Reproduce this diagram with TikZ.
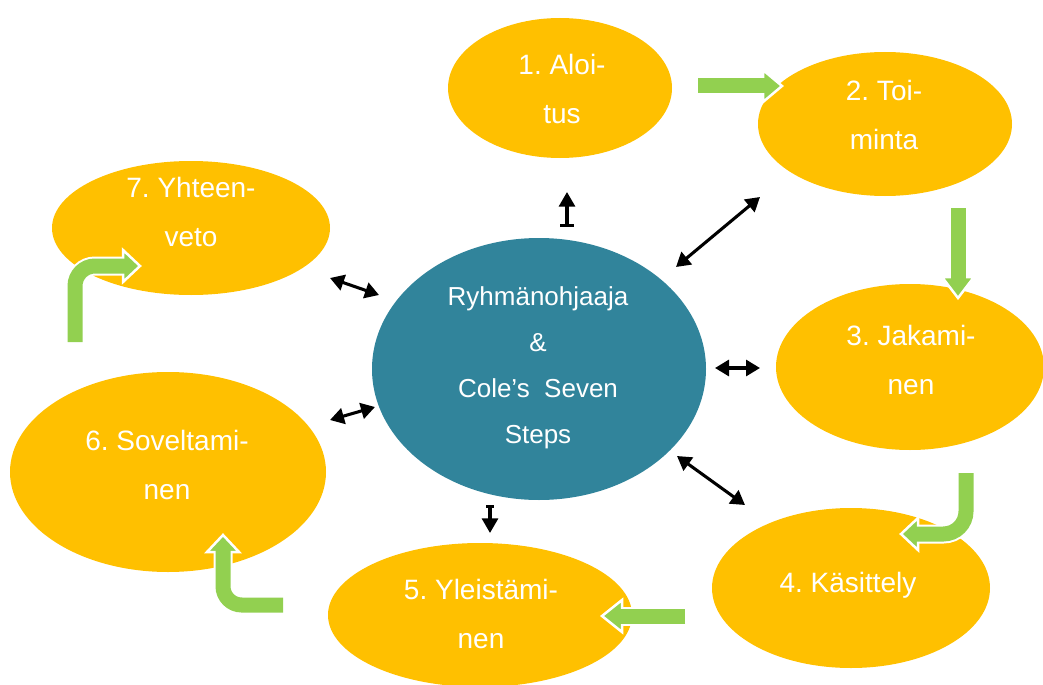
\documentclass[tikz,border=0pt]{standalone}
\usepackage{fontspec}
\setmainfont{Liberation Sans}
\usetikzlibrary{shapes.geometric,arrows.meta}
\definecolor{stageyellow}{HTML}{FFC000}
\definecolor{hubteal}{HTML}{31849B}
\definecolor{flowgreen}{HTML}{92D050}
\frenchspacing
\begin{document}
\begin{tikzpicture}[x=0.75pt,y=-0.75pt,
  axes/.style 2 args={minimum width=#1*0.75pt, minimum height=#2*0.75pt},
  stage/.style={ellipse, fill=stageyellow, inner sep=0pt},
  hub/.style={ellipse, fill=hubteal, inner sep=0pt},
  stagetext/.style={text=white, align=center, inner sep=0pt,
    font=\fontsize{21}{36.75}\selectfont},
  hubtext/.style={text=white, align=center, inner sep=0pt,
    font=\fontsize{19.5}{34.5}\selectfont},
  shaftrim/.style={white, line width=19*0.75pt},
  shaft/.style={flowgreen, line width=15*0.75pt},
  headtip/.style={fill=flowgreen, draw=white, line width=2.5*0.75pt, line join=miter},
  link/.style={line width=2.3pt,
    {Triangle[length=10.5pt,width=12pt]}-{Triangle[length=10.5pt,width=12pt]}},
  uplink/.style={line width=2.3pt, {Bar[width=10pt]}-{Triangle[length=11pt,width=12pt]}},
]
\useasboundingbox (0,0) rectangle (1043,685);
\clip (0,0) rectangle (1043,685);

% the seven stages
\node[stage, axes={224}{140}] (s1) at (560,88) {};
\node[stage, axes={254}{144}] (s2) at (885,124) {};
\node[stage, axes={268}{166}] (s3) at (910,367) {};
\node[stage, axes={278}{160}] (s4) at (851,588) {};
\node[stage, axes={304}{144}] (s5) at (480,615) {};
\node[stage, axes={316}{200}] (s6) at (168,472) {};
\node[stage, axes={278}{134}] (s7) at (191,228) {};

% green flow arrows between the stages
% 1 -> 2
\draw[shaftrim] (698,86) -- (765,86);
\filldraw[headtip] (763,70) -- (782,86) -- (763,102) -- cycle;
\draw[shaft] (698,86) -- (765,86);
% 2 -> 3
\draw[shaftrim] (958,208) -- (958,279);
\filldraw[headtip] (942,277) -- (958,298) -- (974,277) -- cycle;
\draw[shaft] (958,208) -- (958,279);
% 3 -> 4
\draw[shaftrim, rounded corners=17pt] (966,473) -- (966,534) -- (916,534);
\filldraw[headtip] (918,518) -- (901,534) -- (918,550) -- cycle;
\draw[shaft, rounded corners=17pt] (966,473) -- (966,534) -- (916,534);
% 4 -> 5
\draw[shaftrim] (685,616) -- (620,616);
\filldraw[headtip] (622,600) -- (602,616) -- (622,632) -- cycle;
\draw[shaft] (685,616) -- (620,616);
% 5 -> 6
\draw[shaftrim, rounded corners=14pt] (283,605) -- (223,605) -- (223,550);
\filldraw[headtip] (207,552) -- (223,535) -- (239,552) -- cycle;
\draw[shaft, rounded corners=14pt] (283,605) -- (223,605) -- (223,550);
% 6 -> 7
\draw[shaftrim, rounded corners=15pt] (75,342) -- (75,266) -- (125,266);
\filldraw[headtip] (123,250) -- (140,266) -- (123,282) -- cycle;
\draw[shaft, rounded corners=15pt] (75,342) -- (75,266) -- (125,266);

% the group leader in the middle
\node[hub, axes={334}{262}] (hub) at (539,369) {};

% links between the hub and each stage
\coordinate (h1) at (567,227);  \coordinate (e1) at (567,192);
\coordinate (h2) at (676,267);  \coordinate (e2) at (760,197);
\coordinate (h3) at (715,368);  \coordinate (e3) at (760,368);
\coordinate (h4) at (677,456);  \coordinate (e4) at (745,505);
\coordinate (h5) at (490,505);  \coordinate (e5) at (490,533);
\coordinate (h6) at (379,295);  \coordinate (e6) at (330,278);
\coordinate (h7) at (375,407);  \coordinate (e7) at (330,420);
\draw[uplink] (h1) -- (e1);
\draw[link] (h2) -- (e2);
\draw[link] (h3) -- (e3);
\draw[link] (h4) -- (e4);
\draw[line width=2.3pt, {Bar[width=6pt]}-{Triangle[length=11pt,width=12pt]}] (h5) -- (e5);
\draw[link] (h6) -- (e6);
\draw[link] (h7) -- (e7);

% labels
\node[stagetext] (t1) at (562,89) {1. Aloi-\\tus};
\node[stagetext] (t2) at (884,115) {2. Toi-\\minta};
\node[stagetext] (t3) at (911,360) {3. Jakami-\\nen};
\node[stagetext] (t4) at (848,585) {4. Käsittely};
\node[stagetext] (t5) at (481,614) {5. Yleistämi-\\nen};
\node[stagetext] (t6) at (167,465) {6. Soveltami-\\nen};
\node[stagetext] (t7) at (191,212) {7. Yhteen-\\veto};
\node[hubtext] (tc) at (538,368) {Ryhmänohjaaja\\\&\\Cole’s\ \ Seven\\Steps};
\end{tikzpicture}
\end{document}
